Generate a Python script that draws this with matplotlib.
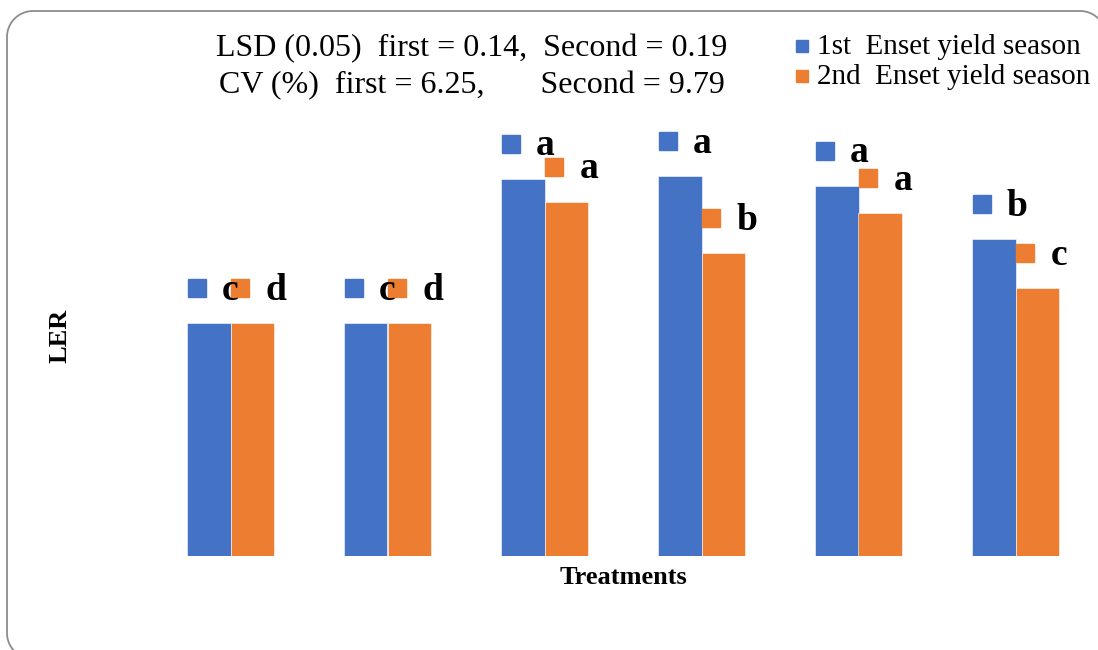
import matplotlib
matplotlib.use("Agg")
import matplotlib.pyplot as plt
from matplotlib.transforms import offset_copy
import numpy as np

plt.rcParams["font.family"] = ["Liberation Serif", "DejaVu Serif"]

# Land equivalent ratio per treatment, two seasons
treatments = ["T1", "T2", "T3", "T4", "T5", "T6"]
season1 = [1.00, 1.00, 1.62, 1.63, 1.59, 1.36]
season2 = [1.00, 1.00, 1.52, 1.30, 1.47, 1.15]
letters1 = ["c", "c", "a", "a", "a", "b"]
letters2 = ["d", "d", "a", "b", "a", "c"]
series_names = ["1st  Enset yield season", "2nd  Enset yield season"]
blue = "#4472C4"
orange = "#ED7D31"

W, H = 1098, 650
fig = plt.figure(figsize=(W / 100, H / 100), dpi=100)

# background layer in pixel units (y measured from the top) for the chart-area border
bg = fig.add_axes([0, 0, 1, 1])
bg.set_xlim(0, W)
bg.set_ylim(H, 0)
bg.axis("off")


def arc(cx, cy, r, a0, a1, n=40):
    t = np.radians(np.linspace(a0, a1, n))
    return cx + r * np.cos(t), cy - r * np.sin(t)


r = 26
segs = [
    arc(33, 633, r, 270, 180),        # bottom-left corner
    ([7, 7], [633, 37]),              # left edge
    arc(33, 37, r, 180, 90),          # top-left corner
    ([33, 1080], [11, 11]),           # top edge
    arc(1080, 37, r, 90, 30),         # top-right corner
]
xs = np.concatenate([np.asarray(s[0], float) for s in segs])
ys = np.concatenate([np.asarray(s[1], float) for s in segs])
bg.plot(xs, ys, color="#8c8c8c", linewidth=1.3, solid_capstyle="round")

ax_left, ax_right = 152 / W, 1094 / W
ax_bottom, ax_top = (H - 556) / H, (H - 130) / H
ax = fig.add_axes([ax_left, ax_bottom, ax_right - ax_left, ax_top - ax_bottom])
ax.patch.set_alpha(0)

x = np.arange(len(treatments))
bw = 0.28
b1 = ax.bar(x - bw / 2, season1, bw, color=blue, edgecolor="white", linewidth=0.4)
b2 = ax.bar(x + bw / 2, season2, bw, color=orange, edgecolor="white", linewidth=0.4)

ax.set_xlim(-0.5, len(treatments) - 0.5)
ax.set_ylim(0, 426 / 233)
for s in ax.spines.values():
    s.set_visible(False)
ax.set_xticks([])
ax.set_yticks([])

# significance letters with legend-key squares
for bars, vals, labs, col in [(b1, season1, letters1, blue), (b2, season2, letters2, orange)]:
    for bar, v, lab in zip(bars, vals, labs):
        cx = bar.get_x() + bar.get_width() / 2
        tr = offset_copy(ax.transData, fig=fig, x=-12, y=35, units="dots")
        ax.plot([cx], [v], marker="s", markersize=13.5, color=col,
                transform=tr, clip_on=False, zorder=3)
        tr2 = offset_copy(ax.transData, fig=fig, x=13, y=33, units="dots")
        ax.text(cx, v, lab, transform=tr2, ha="left", va="center",
                fontsize=27, fontweight="bold", color="black", zorder=4)

fig.text(623 / W, 1 - 578 / H, "Treatments", ha="center", va="center",
         fontsize=19, fontweight="bold")
fig.text(60 / W, 1 - 336 / H, "LER", ha="center", va="center",
         rotation=90, fontsize=19, fontweight="bold")

fig.text(472 / W, 1 - 49 / H, "LSD (0.05)  first = 0.14,  Second = 0.19",
         ha="center", va="center", fontsize=23)
fig.text(472 / W, 1 - 86 / H, "CV (%)  first = 6.25,       Second = 9.79",
         ha="center", va="center", fontsize=23)

# legend
for i, (name, col) in enumerate(zip(series_names, [blue, orange])):
    yy = 1 - (46 + i * 30) / H
    fig.patches.append(plt.Rectangle((796 / W, yy - 6 / H), 12 / W, 12 / H,
                                     transform=fig.transFigure, color=col))
    fig.text(817 / W, yy - 1 / H, name, ha="left", va="center", fontsize=21)

fig.savefig("out.png", dpi=100)
